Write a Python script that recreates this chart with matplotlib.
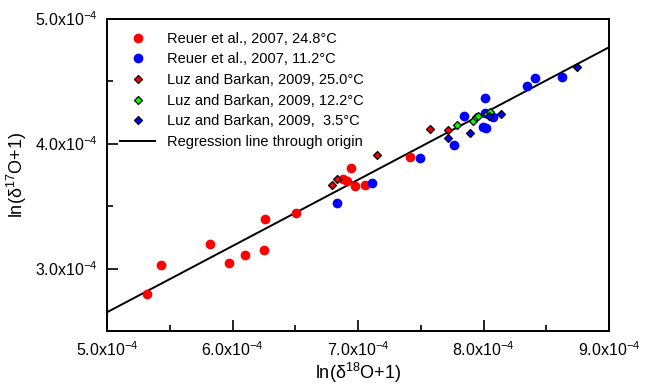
import matplotlib
matplotlib.use("Agg")
import matplotlib.pyplot as plt
from matplotlib.ticker import MultipleLocator, FuncFormatter
import numpy as np

plt.rcParams["font.family"] = ["Liberation Sans", "DejaVu Sans"]
plt.rcParams["mathtext.fontset"] = "custom"
plt.rcParams["mathtext.rm"] = "Liberation Sans"
plt.rcParams["mathtext.it"] = "Liberation Sans:italic"

SCALE = 1e-4

# Reuer et al., 2007 (values in units of 1e-4)
reuer_warm_x = [5.316, 5.433, 5.821, 5.975, 6.102, 6.249, 6.257, 6.506,
                6.878, 6.910, 6.942, 6.974, 7.053, 7.414]
reuer_warm_y = [2.796, 3.030, 3.196, 3.042, 3.106, 3.148, 3.394, 3.442,
                3.718, 3.702, 3.804, 3.660, 3.666, 3.890]
reuer_cold_x = [6.830, 7.109, 7.494, 7.763, 7.842, 8.010, 8.014, 8.076,
                7.994, 8.020, 8.349, 8.410, 8.623]
reuer_cold_y = [3.526, 3.682, 3.886, 3.992, 4.218, 4.368, 4.248, 4.210,
                4.130, 4.128, 4.462, 4.526, 4.534]

# Luz and Barkan, 2009
luz_25_x = [6.793, 6.835, 7.151, 7.574, 7.720]
luz_25_y = [3.668, 3.718, 3.908, 4.116, 4.112]
luz_12_x = [7.791, 7.914, 7.943, 7.955, 8.028, 8.053]
luz_12_y = [4.150, 4.182, 4.214, 4.224, 4.240, 4.252]
luz_3_x = [7.715, 7.892, 8.041, 8.142, 8.743]
luz_3_y = [4.046, 4.088, 4.218, 4.240, 4.610]

slope = 0.530  # regression through origin


def s(v):
    return np.array(v) * SCALE


fig = plt.figure(figsize=(6.51, 3.86), dpi=100)
ax = fig.add_axes([0.1644, 0.1425, 0.7711, 0.8095])

circ = dict(marker="o", linestyle="none", markersize=7, markeredgewidth=0)
diam = dict(marker="D", linestyle="none", markersize=4.2,
            markeredgecolor="black", markeredgewidth=0.9)

ax.plot(s(reuer_warm_x), s(reuer_warm_y), color="#ff0000",
        label="Reuer et al., 2007, 24.8°C", **circ)
ax.plot(s(reuer_cold_x), s(reuer_cold_y), color="#0000ff",
        label="Reuer et al., 2007, 11.2°C", **circ)
ax.plot(s(luz_25_x), s(luz_25_y), markerfacecolor="#ff0000",
        label="Luz and Barkan, 2009, 25.0°C", **diam)
ax.plot(s(luz_12_x), s(luz_12_y), markerfacecolor="#00ff00",
        label="Luz and Barkan, 2009, 12.2°C", **diam)
ax.plot(s(luz_3_x), s(luz_3_y), markerfacecolor="#0000ff",
        label="Luz and Barkan, 2009,  3.5°C", **diam)

xl = np.array([5.0e-4, 9.0e-4])
ax.plot(xl, slope * xl, color="black", linewidth=1.4,
        label="Regression line through origin", zorder=1)

ax.set_xlim(5.0e-4, 9.0e-4)
ax.set_ylim(2.5e-4, 5.0e-4)
ax.xaxis.set_major_locator(MultipleLocator(1e-4))
ax.xaxis.set_minor_locator(MultipleLocator(0.5e-4))
ax.yaxis.set_major_locator(MultipleLocator(1e-4))
ax.yaxis.set_minor_locator(MultipleLocator(0.5e-4))

fmt = FuncFormatter(lambda v, p: r"%.1fx10$^{-4}$" % (v / SCALE))
ax.xaxis.set_major_formatter(fmt)
ax.yaxis.set_major_formatter(fmt)

ax.tick_params(which="both", direction="in", top=False, right=False,
               width=1.2, labelsize=11.5)
ax.tick_params(which="major", length=8, pad=7)
ax.tick_params(which="minor", length=4)
for sp in ax.spines.values():
    sp.set_linewidth(1.4)

ax.set_xlabel(r"ln(δ$^{18}$O+1)", fontsize=13, labelpad=1)
ax.set_ylabel(r"ln(δ$^{17}$O+1)", fontsize=13, labelpad=4)

ax.legend(loc="upper left", frameon=False, fontsize=10.5,
          handlelength=2.4, handletextpad=0.8, labelspacing=0.46,
          borderaxespad=0.5, bbox_to_anchor=(0.0, 1.0))

fig.savefig("out.png", dpi=100)
